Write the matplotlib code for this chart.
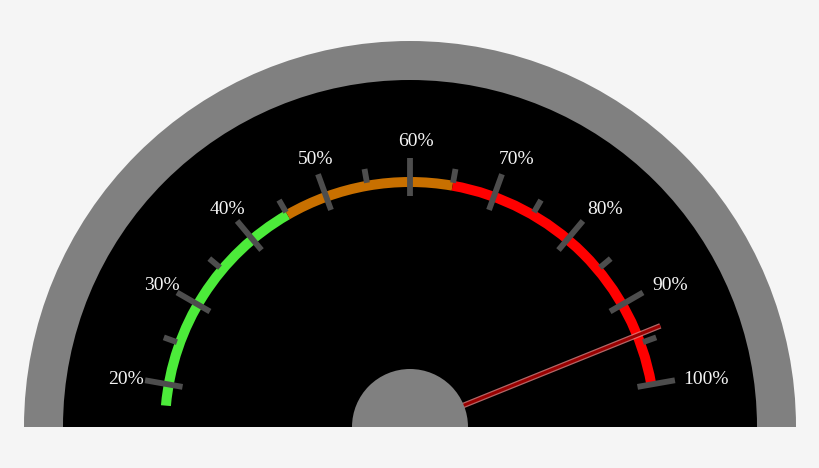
import numpy as np
import matplotlib
matplotlib.use("Agg")
import matplotlib.pyplot as plt
from matplotlib.patches import Wedge

# gauge data
major_values = [20, 30, 40, 50, 60, 70, 80, 90, 100]
major_labels = ['20%', '30%', '40%', '50%', '60%', '70%', '80%', '90%', '100%']
minor_values = [25, 35, 45, 55, 65, 75, 85, 95]
band_starts = [17.5, 45, 65]
band_ends = [45, 65, 100]
band_colors = ['#4ceb3a', '#c87000', '#ff0000']
needle_value = 94

W, H = 820, 468
cx, cy = 410, H - 427   # gauge centre (y measured from bottom)


def angle(v):
    # 20% -> 170 deg, 100% -> 10 deg
    return 170 - (v - 20) * 2.0


def polar(r, v):
    a = np.radians(angle(v))
    return cx + r * np.cos(a), cy + r * np.sin(a)


fig = plt.figure(figsize=(W / 100, H / 100), dpi=100)
fig.patch.set_facecolor('#f5f5f5')
ax = fig.add_axes([0, 0, 1, 1])
ax.set_xlim(0, W)
ax.set_ylim(0, H)
ax.axis('off')

# body
ax.add_patch(Wedge((cx, cy), 386, 0, 180, facecolor='#808080', edgecolor='none', zorder=1))
ax.add_patch(Wedge((cx, cy), 347, 0, 180, facecolor='#000000', edgecolor='none', zorder=1))

# colour bands
for s, e, c in zip(band_starts, band_ends, band_colors):
    ax.add_patch(Wedge((cx, cy), 250, angle(e), angle(s), width=10,
                       facecolor=c, edgecolor='none', zorder=2))

# ticks
for v in major_values:
    x0, y0 = polar(231, v)
    x1, y1 = polar(269, v)
    ax.plot([x0, x1], [y0, y1], color='#4d4d4d', lw=4.2, solid_capstyle='butt', zorder=3)
for v in minor_values:
    x0, y0 = polar(248, v)
    x1, y1 = polar(262, v)
    ax.plot([x0, x1], [y0, y1], color='#4d4d4d', lw=4.2, solid_capstyle='butt', zorder=3)

# labels
for v, lab in zip(major_values, major_labels):
    x, y = polar(287, v)
    x += 6 + 7 * np.cos(np.radians(angle(v)))
    ax.text(x, y, lab, color='#f4f4f4', fontsize=14, family='Liberation Serif',
            ha='center', va='center_baseline', zorder=4)

# needle
bx, by = polar(40, needle_value)
nx, ny = polar(270, needle_value)
ax.plot([bx, nx], [by, ny], color='#e08080', lw=4.0, alpha=0.8,
        solid_capstyle='butt', zorder=5)
ax.plot([bx, nx], [by, ny], color='#9a0000', lw=2.2, solid_capstyle='butt', zorder=5)

# hub
ax.add_patch(Wedge((cx, cy), 58, 0, 180, facecolor='#808080', edgecolor='none', zorder=6))

fig.savefig('out.png', dpi=100, facecolor=fig.get_facecolor())
